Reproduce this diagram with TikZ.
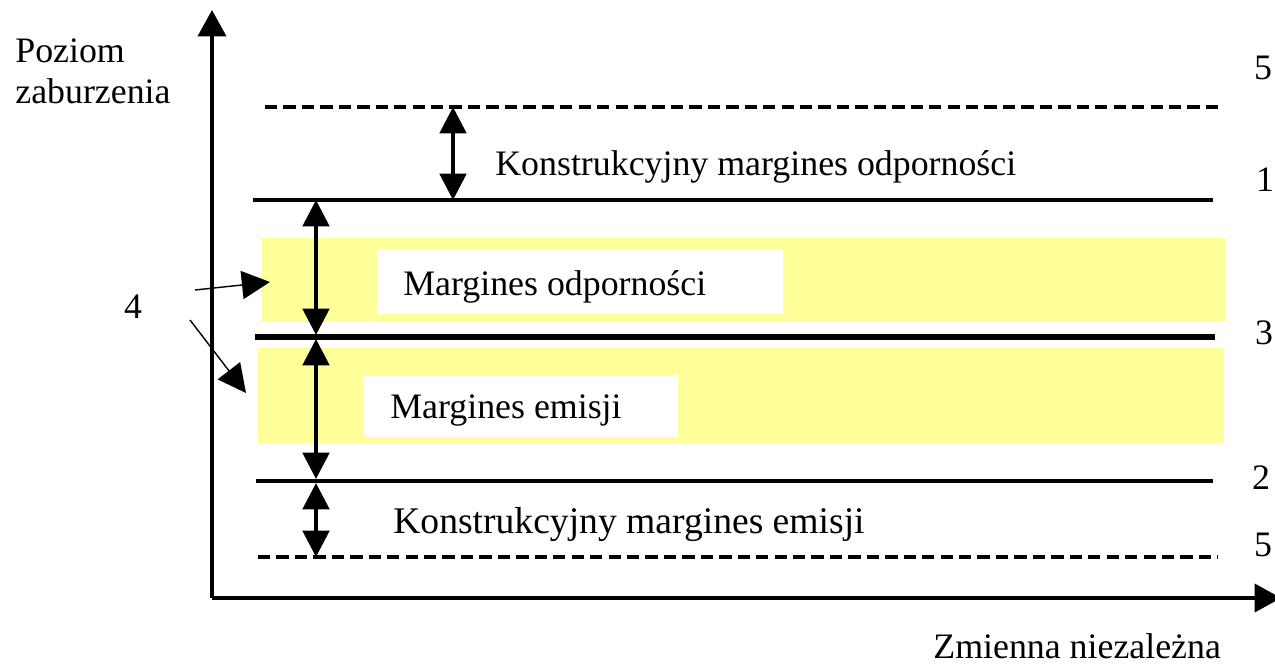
\documentclass[tikz,border=0pt]{standalone}
\usepackage{fontspec}
\setmainfont{Liberation Serif}
\usetikzlibrary{arrows.meta}
\definecolor{bandyellow}{RGB}{255,255,153}
\begin{document}
\begin{tikzpicture}[x=0.02cm, y=-0.02cm, >={Triangle[length=15pt,width=15pt]},
		axis/.style={line width=2pt, -{Triangle[length=15pt,width=16pt]}},
		level/.style={line width=1.9pt},
		limit/.style={line width=1.9pt, dash pattern=on 7pt off 3.5pt},
		gap/.style={line width=2.2pt, <->},
		pointer/.style={line width=0.8pt, -{Triangle[length=16pt,width=16pt]}},
		lbl/.style={inner sep=0pt, font=\fontsize{20.4}{23}\selectfont}]
	\useasboundingbox (0,0) rectangle (1275,664);
	% bands
	\fill[bandyellow] (262,238) rectangle (1225,322);
	\fill[bandyellow] (258,348) rectangle (1224,443);
	\fill[white] (377,249) rectangle (783,314);
	\fill[white] (363,375) rectangle (678,437);
	% levels
	\coordinate (top l) at (265,107); \coordinate (top r) at (1222,107);
	\coordinate (imm l) at (253,200); \coordinate (imm r) at (1213,200);
	\coordinate (mid l) at (255,337); \coordinate (mid r) at (1215,337);
	\coordinate (emi l) at (256,481); \coordinate (emi r) at (1213,481);
	\coordinate (bot l) at (258,557); \coordinate (bot r) at (1218,557);
	\draw[limit] (top l) -- (top r);
	\draw[level] (imm l) -- (imm r);
	\draw[line width=3.6pt] (mid l) -- (mid r);
	\draw[level] (emi l) -- (emi r);
	\draw[limit] (bot l) -- (bot r);
	% axes
	\coordinate (O) at (212,598);
	\coordinate (ytip) at (212,10);
	\coordinate (xtip) at (1281,598);
	\draw[axis] (O) -- (ytip);
	\draw[axis] (O) -- (xtip);
	% gaps
	\coordinate (g1a) at (453,107); \coordinate (g1b) at (453,200);
	\coordinate (g2a) at (316,200); \coordinate (g2b) at (316,335);
	\coordinate (g3a) at (316,339); \coordinate (g3b) at (316,479);
	\coordinate (g4a) at (316,483); \coordinate (g4b) at (316,557);
	\draw[gap] (g1a) -- (g1b);
	\draw[gap] (g2a) -- (g2b);
	\draw[gap] (g3a) -- (g3b);
	\draw[gap] (g4a) -- (g4b);
	% texts
	\node[lbl, anchor=base west, align=left] (ylab) at (15,103) {Poziom\\zaburzenia};
	\node[lbl, anchor=base west] (xlab) at (933,658) {Zmienna niezależna};
	\node[lbl, anchor=base west] (kmo) at (495,175) {Konstrukcyjny margines odporności};
	\node[lbl, anchor=base west] (mo) at (403,295) {Margines odporności};
	\node[lbl, anchor=base west] (me) at (390,418) {Margines emisji};
	\node[lbl, font=\fontsize{21.4}{24}\selectfont, fill=white, fill opacity=0.7, text opacity=1,
		anchor=base, minimum width=10.2cm, minimum height=1.2cm] (kme) at (629,533) {Konstrukcyjny margines emisji};
	\node[lbl] (four) at (133,307) {4};
	\node[lbl] (n5a) at (1263,68) {5};
	\node[lbl] (n1) at (1265,180) {1};
	\node[lbl] (n3) at (1264,333) {3};
	\node[lbl] (n2) at (1261,478) {2};
	\node[lbl] (n5b) at (1263,545) {5};
	% pointers
	\coordinate (p1a) at (195,290); \coordinate (p1b) at (270,282);
	\coordinate (p2a) at (190,320); \coordinate (p2b) at (246,393);
	\draw[pointer] (p1a) -- (p1b);
	\draw[pointer] (p2a) -- (p2b);
\end{tikzpicture}
\end{document}
